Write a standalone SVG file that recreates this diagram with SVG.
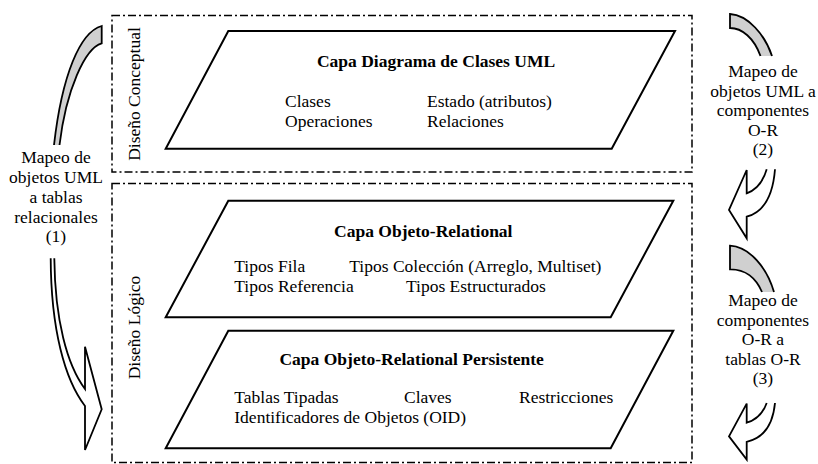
<svg xmlns="http://www.w3.org/2000/svg" width="818" height="464" viewBox="0 0 818 464">
<style>
text{font-family:"Liberation Serif","Times New Roman",serif;font-size:17.5px;fill:#000}
.b{font-weight:bold}
.m{text-anchor:middle}
.zone{fill:none;stroke:#000;stroke-width:1.5;stroke-dasharray:8 3 2 3}
.layer{fill:#fff;stroke:#000;stroke-width:2}
.ga{fill:#d0d0d0;stroke:#000;stroke-width:1.8;stroke-linejoin:miter}
.wa{fill:#fff;stroke:#000;stroke-width:1.8;stroke-linejoin:miter}
</style>
<rect width="818" height="464" fill="#fff"/>
<g id="zone-conceptual">
<rect class="zone" x="112" y="15.5" width="580" height="156.5"/>
<text class="m" transform="translate(140,94) rotate(-90)">Diseño Conceptual</text>
</g>
<g id="zone-logico">
<rect class="zone" x="112" y="183.5" width="580" height="279"/>
<text class="m" transform="translate(140,327.5) rotate(-90)">Diseño Lógico</text>
</g>
<g id="capa-uml">
<polygon class="layer" points="228.3,31 675,31 611.7,148.7 165.7,148.7"/>
<text class="b m" x="436" y="67">Capa Diagrama de Clases UML</text>
<text x="285" y="107">Clases</text>
<text x="285" y="127">Operaciones</text>
<text x="427" y="107">Estado (atributos)</text>
<text x="427" y="127">Relaciones</text>
</g>
<g id="capa-or">
<polygon class="layer" points="228.3,200.7 673.3,200.7 610.7,317.3 165.7,317.3"/>
<text class="b m" x="423.3" y="237">Capa Objeto-Relational</text>
<text x="234.3" y="272">Tipos Fila</text>
<text x="234.3" y="292">Tipos Referencia</text>
<text x="349.3" y="272">Tipos Colección (Arreglo, Multiset)</text>
<text x="406" y="292">Tipos Estructurados</text>
</g>
<g id="capa-or-persistente">
<polygon class="layer" points="228.3,330.7 673.3,330.7 610.7,448.3 165.7,448.3"/>
<text class="b m" x="411.7" y="365">Capa Objeto-Relational Persistente</text>
<text x="234.3" y="403">Tablas Tipadas</text>
<text x="404" y="403">Claves</text>
<text x="519" y="403">Restricciones</text>
<text x="234.3" y="423">Identificadores de Objetos (OID)</text>
</g>
<g id="connectors">
<g id="mapeo-1">
<path class="ga" d="M54,145 C62,75 80,32 101.7,26 L101.7,43.3 C85,48 66,90 59.5,145"/>
<path class="wa" d="M50.7,258.3 C51,330 65,380 85,406 L85,450 L101.7,409.3 L85,346.7 L85,389 C67,365 55,320 54.3,258.3"/>
</g>
<g id="mapeo-2">
<path class="ga" d="M772,56 C765,35 748,15 730,14 L730,28 C742,28 754,38 760.5,56"/>
<path class="wa" d="M766.7,169.3 C763,182 756,190 746.7,193.3 L746.7,170 L729,210 L746.7,238.3 L746.7,216.7 C764,212 773,195 775,169.3"/>
</g>
<g id="mapeo-3">
<path class="ga" d="M774,292 C767,268 750,247 730,245.7 L730,269.3 C745,269 756,278 762,292"/>
<path class="wa" d="M766.7,403 C763,413.4 756,420 746.7,422.7 L746.7,403.6 L729,436.4 L746.7,459.6 L746.7,441.9 C764,438 773,424.1 775,403"/>
</g>
</g>
<g id="label-1">
<text class="m" x="56" y="163">Mapeo de</text>
<text class="m" x="56" y="183">objetos UML</text>
<text class="m" x="56" y="203">a tablas</text>
<text class="m" x="56" y="222.5">relacionales</text>
<text class="m" x="56" y="242">(1)</text>
</g>
<g id="label-2">
<text class="m" x="763" y="77">Mapeo de</text>
<text class="m" x="763" y="96.5">objetos UML a</text>
<text class="m" x="763" y="116">componentes</text>
<text class="m" x="763" y="135.5">O-R</text>
<text class="m" x="763" y="155">(2)</text>
</g>
<g id="label-3">
<text class="m" x="763" y="306">Mapeo de</text>
<text class="m" x="763" y="325.5">componentes</text>
<text class="m" x="763" y="345">O-R a</text>
<text class="m" x="763" y="364.5">tablas O-R</text>
<text class="m" x="763" y="384">(3)</text>
</g>
</svg>
